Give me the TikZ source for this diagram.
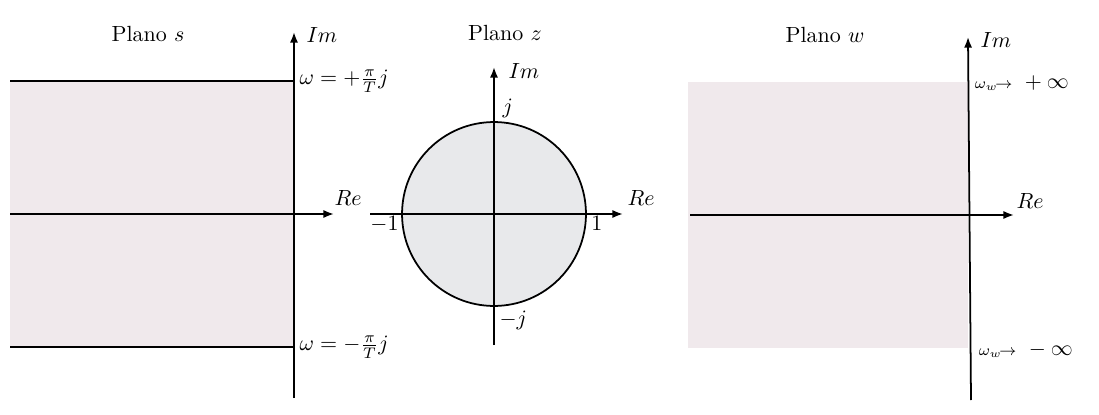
\documentclass[tikz,border=0pt]{standalone}
\usepackage{amsmath,amssymb}
\usetikzlibrary{arrows.meta, positioning, calc}
\definecolor{plgray}{HTML}{F0E9EC}
\definecolor{cgray}{HTML}{E8E9EB}

\begin{document}
\begin{tikzpicture}[
  x=0.016cm, y=-0.016cm,
  >={Latex[length=1.7mm, width=1.3mm]},
  axis/.style={line width=0.8pt, ->},
  bnd/.style={line width=1.1pt},
  ttl/.style={font=\normalsize},
  lbl/.style={font=\normalsize, inner sep=1pt},
]

% Background
\useasboundingbox (0,0) rectangle (1099,415);
\fill[white] (0,0) rectangle (1099,415);

% === Plano s ===
\fill[plgray] (10,81) rectangle (294,347);
\coordinate (sTL) at (10,81);
\coordinate (sTR) at (294,81);
\coordinate (sBL) at (10,347);
\coordinate (sBR) at (294,347);
\coordinate (sReL) at (10,214);
\coordinate (sReR) at (334,214);
\coordinate (sImB) at (294,398);
\coordinate (sImT) at (294,32);
\draw[bnd] (sTL) -- (sTR);
\draw[bnd] (sBL) -- (sBR);
\draw[axis] (sReL) -- (sReR);
\draw[axis] (sImB) -- (sImT);

\node[ttl] (sTitle) at (148,34) {Plano $s$};
\node[lbl, anchor=west] (sIm) at ($(sImT)+(10,3)$) {$Im$};
\node[lbl, anchor=south west] (sRe) at ($(sReR)+(-2,-6)$) {$Re$};
\node[lbl, anchor=west] (sTop) at ($(sTR)+(3,0)$) {$\omega = +\frac{\pi}{T}j$};
\node[lbl, anchor=west] (sBot) at ($(sBR)+(3,0)$) {$\omega = -\frac{\pi}{T}j$};

% === Plano z ===
\node[draw, circle, fill=cgray, line width=0.8pt, minimum size=2.944cm,
  inner sep=0pt] (ucirc) at (494,214) {};
\coordinate (zReL) at (370,214);
\coordinate (zReR) at (623,214);
\coordinate (zImB) at (494,345);
\coordinate (zImT) at (494,67);
\draw[axis] (zReL) -- (zReR);
\draw[axis] (zImB) -- (zImT);

\node[ttl] (zTitle) at (505,33) {Plano $z$};
\node[lbl, anchor=west] (zIm) at ($(zImT)+(12,4)$) {$Im$};
\node[lbl, anchor=south west] (zRe) at ($(zReR)+(2,-6)$) {$Re$};
\node[lbl, anchor=south west] (zj) at ($(ucirc.north)+(6,-1)$) {$j$};
\node[lbl, anchor=north west] (zmj) at ($(ucirc.south)+(3,2)$) {$-j$};
\node[lbl, anchor=north east] (zm1) at (ucirc.west) {$-1$};
\node[lbl, anchor=north west] (z1) at ($(ucirc.east)+(2,0)$) {$1$};

% === Plano w ===
\fill[plgray] (688,82) rectangle (968,348);
\coordinate (wReL) at (690,215);
\coordinate (wReR) at (1014,215);
\coordinate (wImB) at (971,400);
\coordinate (wImT) at (968,37);
\draw[axis] (wReL) -- (wReR);
\draw[axis] (wImB) -- (wImT);

\node[ttl] (wTitle) at (825,35) {Plano $w$};
\node[lbl, anchor=west] (wIm) at ($(wImT)+(10,3)$) {$Im$};
\node[lbl, anchor=south west] (wRe) at ($(wReR)+(0,-4)$) {$Re$};
\node[lbl, anchor=west] (wTop) at (972,83)
  {${\scriptstyle\omega_w\!\rightarrow}\ +\infty$};
\node[lbl, anchor=west] (wBot) at (976,350)
  {${\scriptstyle\omega_w\!\rightarrow}\ -\infty$};

\end{tikzpicture}
\end{document}
